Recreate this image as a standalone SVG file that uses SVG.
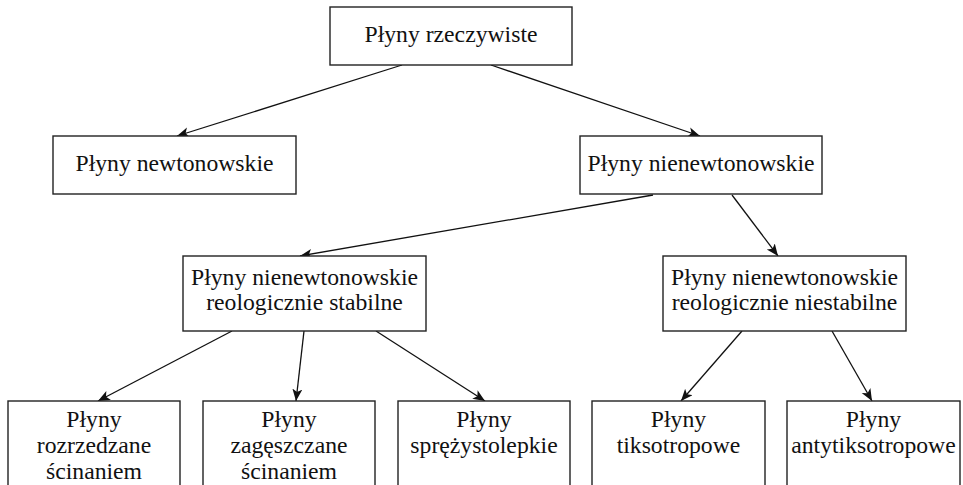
<svg xmlns="http://www.w3.org/2000/svg" width="963" height="485" viewBox="0 0 963 485">
<style>
.box{fill:#fff;stroke:#222;stroke-width:1.4}
.t{font-family:"Liberation Serif","Times New Roman",serif;font-size:23.7px;fill:#111;text-anchor:middle}
.c{fill:none;stroke:#111;stroke-width:1.3}
</style>
<defs>
<marker id="arr" markerUnits="userSpaceOnUse" markerWidth="14" markerHeight="12" refX="12" refY="5" orient="auto">
<path d="M0,0 L12,5 L0,10 L3,5 z" fill="#111"/>
</marker>
</defs>
<g id="connectors">
<line class="c" x1="402" y1="65" x2="177" y2="136" marker-end="url(#arr)"/>
<line class="c" x1="491" y1="65" x2="700" y2="136" marker-end="url(#arr)"/>
<line class="c" x1="653" y1="195" x2="300" y2="256" marker-end="url(#arr)"/>
<line class="c" x1="732" y1="195" x2="778" y2="256" marker-end="url(#arr)"/>
<line class="c" x1="232" y1="331" x2="98" y2="401" marker-end="url(#arr)"/>
<line class="c" x1="304" y1="331" x2="296" y2="401" marker-end="url(#arr)"/>
<line class="c" x1="376" y1="331" x2="485" y2="401" marker-end="url(#arr)"/>
<line class="c" x1="742" y1="331" x2="681" y2="401" marker-end="url(#arr)"/>
<line class="c" x1="832" y1="331" x2="872" y2="401" marker-end="url(#arr)"/>
</g>
<g id="n-rzeczywiste">
<rect class="box" x="330" y="7" width="242" height="58"/>
<text class="t" x="451" y="42">Płyny rzeczywiste</text>
</g>
<g id="n-newtonowskie">
<rect class="box" x="53" y="136" width="243" height="58"/>
<text class="t" x="174.5" y="171">Płyny newtonowskie</text>
</g>
<g id="n-nienewtonowskie">
<rect class="box" x="580" y="136" width="242" height="58"/>
<text class="t" x="701" y="171">Płyny nienewtonowskie</text>
</g>
<g id="n-stabilne">
<rect class="box" x="183" y="256" width="243" height="75"/>
<text class="t" x="304.5" y="285">Płyny nienewtonowskie</text>
<text class="t" x="304.5" y="310">reologicznie stabilne</text>
</g>
<g id="n-niestabilne">
<rect class="box" x="663" y="256" width="243" height="75"/>
<text class="t" x="784.5" y="285">Płyny nienewtonowskie</text>
<text class="t" x="784.5" y="310">reologicznie niestabilne</text>
</g>
<g id="n-rozrzedzane">
<rect class="box" x="8" y="401" width="172" height="100"/>
<text class="t" x="94" y="427">Płyny</text>
<text class="t" x="94" y="453">rozrzedzane</text>
<text class="t" x="94" y="479">ścinaniem</text>
</g>
<g id="n-zageszczane">
<rect class="box" x="203" y="401" width="172" height="100"/>
<text class="t" x="289" y="427">Płyny</text>
<text class="t" x="289" y="453">zagęszczane</text>
<text class="t" x="289" y="479">ścinaniem</text>
</g>
<g id="n-sprezystolepkie">
<rect class="box" x="398" y="401" width="172" height="100"/>
<text class="t" x="484" y="427">Płyny</text>
<text class="t" x="484" y="453">sprężystolepkie</text>
</g>
<g id="n-tiksotropowe">
<rect class="box" x="592" y="401" width="173" height="100"/>
<text class="t" x="678.5" y="427">Płyny</text>
<text class="t" x="678.5" y="453">tiksotropowe</text>
</g>
<g id="n-antytiksotropowe">
<rect class="box" x="787" y="401" width="173" height="100"/>
<text class="t" x="873.5" y="427">Płyny</text>
<text class="t" x="873.5" y="453">antytiksotropowe</text>
</g>
</svg>
